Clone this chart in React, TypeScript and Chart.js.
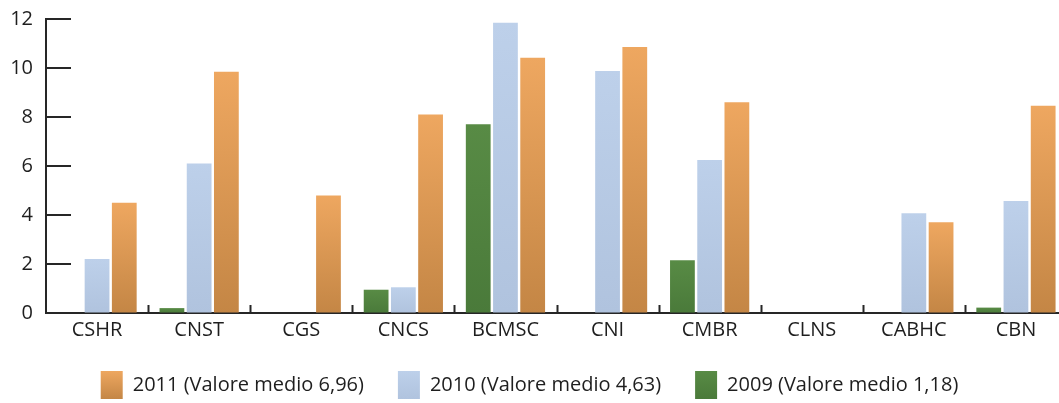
import React, { useEffect, useRef } from 'react';
import { Chart, registerables } from 'chart.js';

Chart.register(...registerables);

const categories = ['CSHR', 'CNST', 'CGS', 'CNCS', 'BCMSC', 'CNI', 'CMBR', 'CLNS', 'CABHC', 'CBN'];
const values2009 = [0, 0.2, 0, 0.95, 7.7, 0, 2.15, 0, 0, 0.22];
const values2010 = [2.2, 6.1, 0, 1.05, 11.85, 9.88, 6.25, 0, 4.07, 4.57];
const values2011 = [4.5, 9.85, 4.8, 8.1, 10.42, 10.86, 8.6, 0, 3.7, 8.46];
const seriesLabels = ['2009 (Valore medio 1,18)', '2010 (Valore medio 4,63)', '2011 (Valore medio 6,96)'];
const yMin = 0;
const yMax = 12;
const yStep = 2;

const FONT = "'Open Sans', 'Noto Sans', sans-serif";
const AXIS = '#262626';
const TEXT = '#1e1e1e';
const VIEW_W = 1059;
const VIEW_H = 403;
const CANVAS_W = 1076;
const CANVAS_H = 409;
const LEG_PAD = 34;
const BOX_W = 22;
const BOX_H = 28;

const palettes: string[][] = [
  ['#588b45', '#4a7a3a'],
  ['#bdd0ea', '#b0c3de'],
  ['#eea760', '#c48645'],
];

function barGradient(pal: string[]) {
  return (ctx: any) => {
    const chart = ctx.chart;
    const area = chart.chartArea;
    if (!area || ctx.type !== 'data' || !chart.scales || !chart.scales.y) return pal[0];
    const yScale = chart.scales.y;
    const top = yScale.getPixelForValue(ctx.raw);
    const bottom = yScale.getPixelForValue(0);
    if (!isFinite(top) || !isFinite(bottom) || bottom - top < 1) return pal[1];
    const g = chart.ctx.createLinearGradient(0, top, 0, bottom);
    g.addColorStop(0, pal[0]);
    g.addColorStop(1, pal[1]);
    return g;
  };
}

const axisTicks = {
  id: 'axisTicks',
  beforeDraw(chart: any) {
    if (chart.legend) {
      chart.legend.left = 0;
      chart.legend.right = VIEW_W;
    }
  },
  afterDraw(chart: any) {
    const { ctx, chartArea, scales } = chart;
    const y = scales.y;
    const x = scales.x;
    ctx.save();
    ctx.strokeStyle = AXIS;
    ctx.lineWidth = 2;
    ctx.beginPath();
    y.ticks.forEach((t: any) => {
      const py = Math.round(y.getPixelForValue(t.value));
      ctx.moveTo(chartArea.left, py);
      ctx.lineTo(chartArea.left + 25, py);
    });
    const half = (x.getPixelForValue(1) - x.getPixelForValue(0)) / 2;
    for (let i = 1; i <= categories.length; i++) {
      const px = Math.round(x.getPixelForValue(i - 1) + half) + 0.5;
      ctx.moveTo(px, chartArea.bottom);
      ctx.lineTo(px, chartArea.bottom - 8);
    }
    ctx.stroke();
    ctx.restore();
  },
};

export default function App() {
  const ref = useRef<HTMLCanvasElement | null>(null);

  useEffect(() => {
    if (!ref.current) return;
    const series = [values2009, values2010, values2011];
    const chart = new Chart(ref.current, {
      type: 'bar',
      data: {
        labels: categories,
        datasets: series.map((vals, i) => ({
          label: seriesLabels[i],
          data: vals,
          backgroundColor: barGradient(palettes[i]),
          borderWidth: 0,
          categoryPercentage: 0.8,
          barPercentage: 0.91,
        })),
      },
      options: {
        responsive: false,
        animation: false,
        layout: { padding: { left: 0, right: CANVAS_W - 1067, top: 19, bottom: 0 } },
        plugins: {
          tooltip: { enabled: false },
          legend: {
            position: 'bottom',
            reverse: true,
            labels: {
              boxWidth: BOX_W,
              boxHeight: BOX_H,
              padding: LEG_PAD,
              color: TEXT,
              font: { family: FONT, size: 20 },
              generateLabels: (chart: any) => {
                const items = (Chart.defaults.plugins.legend.labels as any).generateLabels(chart);
                const lg = chart.legend;
                return items.map((it: any) => {
                  const pal = palettes[it.datasetIndex];
                  let fill: any = pal[0];
                  if (lg && typeof lg.top === 'number' && isFinite(lg.top)) {
                    const top = lg.top + LEG_PAD;
                    const g = chart.ctx.createLinearGradient(0, top, 0, top + BOX_H);
                    g.addColorStop(0, pal[0]);
                    g.addColorStop(1, pal[1]);
                    fill = g;
                  }
                  return { ...it, fillStyle: fill, strokeStyle: 'rgba(0,0,0,0)', lineWidth: 0, fontColor: TEXT };
                });
              },
            },
          },
        },
        scales: {
          x: {
            grid: { display: true, drawOnChartArea: false, drawTicks: false },
            border: { display: true, color: AXIS, width: 2 },
            ticks: { color: TEXT, font: { family: FONT, size: 20 }, padding: 5, maxRotation: 0 },
            afterFit: (s: any) => { s.height = 24; s.paddingLeft = 0; s.paddingRight = 0; },
          },
          y: {
            min: yMin,
            max: yMax,
            grid: { display: true, drawOnChartArea: false, drawTicks: false },
            border: { display: true, color: AXIS, width: 2 },
            ticks: { stepSize: yStep, color: TEXT, font: { family: FONT, size: 20 }, padding: 13 },
            afterFit: (s: any) => { s.width = 46; s.paddingTop = 0; s.paddingBottom = 0; },
          },
        },
      },
      plugins: [axisTicks],
    });
    return () => chart.destroy();
  }, []);

  return (
    <div style={{ position: 'fixed', left: 0, top: 0, width: VIEW_W, height: VIEW_H, overflow: 'hidden', background: '#ffffff' }}>
      <canvas ref={ref} width={CANVAS_W} height={CANVAS_H} style={{ display: 'block', width: CANVAS_W, height: CANVAS_H }} />
    </div>
  );
}
